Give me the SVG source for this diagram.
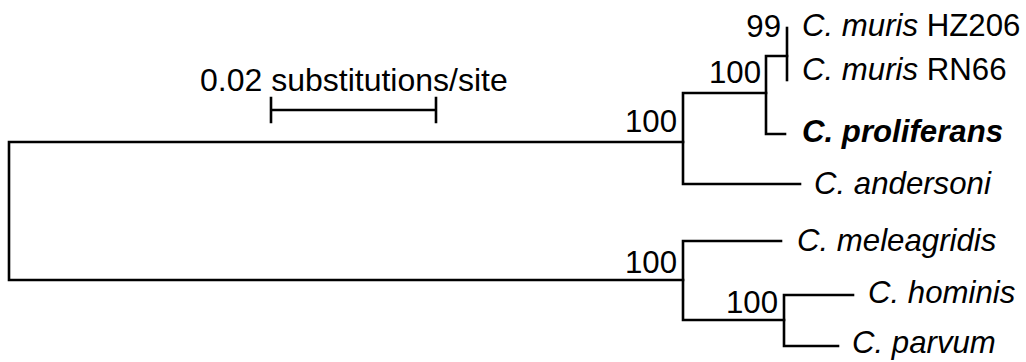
<svg xmlns="http://www.w3.org/2000/svg" width="1026" height="362" viewBox="0 0 1026 362">
<style>
.br{fill:none;stroke:#000;stroke-width:2.6;stroke-linecap:square}
text{font-family:"Liberation Sans",Arial,sans-serif;font-size:31.2px;fill:#000}
.bs{text-anchor:end}
.it{font-style:italic}
.bd{font-weight:bold;font-style:italic}
.sc{font-size:32px}
</style>
<rect width="1026" height="362" fill="#fff"/>
<g id="connectors">
<path class="br" d="M683,142 H9 V280 H683"/>
<path class="br" d="M800,184 H683 V93 H766"/>
<path class="br" d="M785,134 H766 V56 H787"/>
<path class="br" d="M787,28 V80"/>
<path class="br" d="M781,241 H683 V320 H784"/>
<path class="br" d="M853,295 H784 V346 H838"/>
</g>
<g id="scalebar">
<path class="br" d="M271,110 H436 M271,98 V122 M436,98 V122"/>
<text class="sc" x="200" y="91">0.02 substitutions/site</text>
</g>
<g id="support">
<text class="bs" x="781" y="37">99</text>
<text class="bs" x="761" y="83">100</text>
<text class="bs" x="677" y="132">100</text>
<text class="bs" x="677" y="273">100</text>
<text class="bs" x="778" y="313">100</text>
</g>
<g id="tip-hz206"><text x="802" y="36"><tspan class="it">C. muris</tspan> HZ206</text></g>
<g id="tip-rn66"><text x="802" y="80"><tspan class="it">C. muris</tspan> RN66</text></g>
<g id="tip-proliferans"><text class="bd" x="802" y="142">C. proliferans</text></g>
<g id="tip-andersoni"><text class="it" x="814" y="194">C. andersoni</text></g>
<g id="tip-meleagridis"><text class="it" x="797" y="251">C. meleagridis</text></g>
<g id="tip-hominis"><text class="it" x="868" y="303">C. hominis</text></g>
<g id="tip-parvum"><text class="it" x="852" y="353">C. parvum</text></g>
</svg>
